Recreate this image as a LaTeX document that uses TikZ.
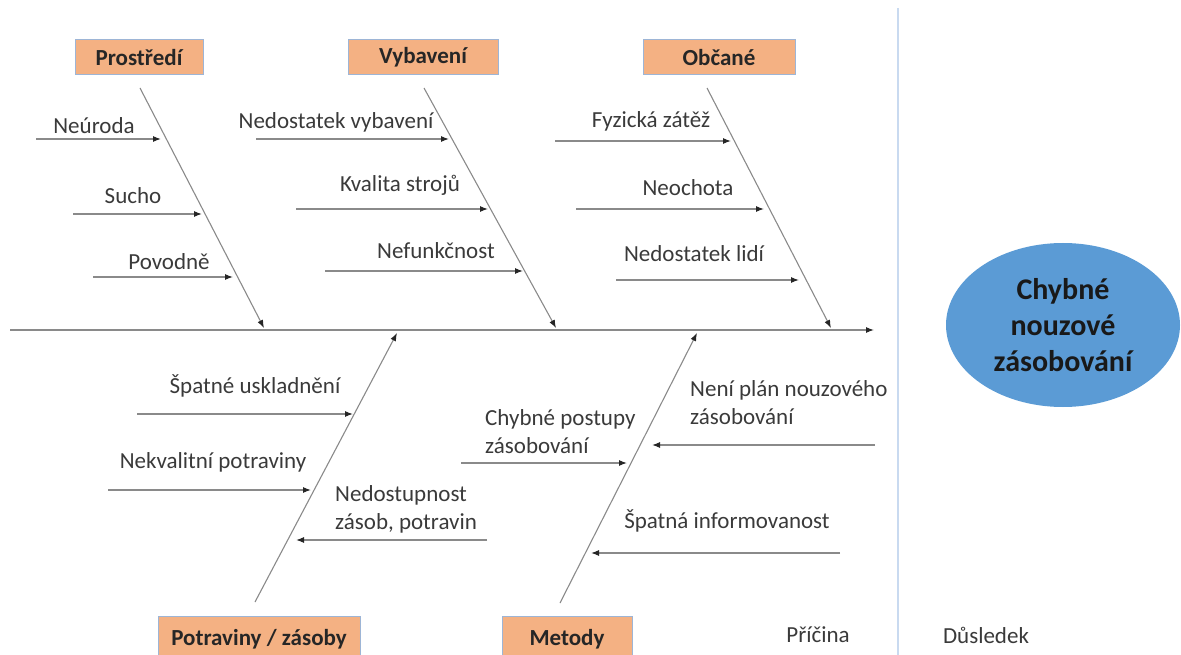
\documentclass[tikz,border=0pt]{standalone}
\usepackage{fontspec}
\setmainfont{Carlito}
\usetikzlibrary{arrows.meta,shapes.geometric}
\definecolor{boxfill}{HTML}{F4B183}
\definecolor{boxline}{HTML}{9DB5D6}
\definecolor{ellfill}{HTML}{5B9BD5}
\definecolor{sepline}{HTML}{C9DAF0}
\definecolor{txt}{HTML}{3A3A3A}
\definecolor{ln}{HTML}{8A8A8A}
\tikzset{
  cat/.style={draw=boxline, fill=boxfill, line width=1pt, font=\bfseries\fontsize{23}{28}\selectfont, text=black!85, inner sep=0pt},
  lbl/.style={font=\fontsize{23}{28}\selectfont, text=txt, inner sep=0pt, align=left},
  bone/.style={draw=ln, line width=1.1pt, -{Latex[length=8pt,width=6pt,color=black!85]}},
  sub/.style={draw=ln, line width=1.1pt, -{Latex[length=8pt,width=6pt,color=black!85]}},
}
\begin{document}
\begin{tikzpicture}[x=1pt,y=-1pt]
\useasboundingbox (0,0) rectangle (1181,655);
\clip (0,0) rectangle (1181,655);

% separator
\coordinate (vT) at (898,8);
\coordinate (vB) at (898,655);
\draw[sepline, line width=1.2pt] (vT) -- (vB);

% spine
\coordinate (sL) at (10,330);
\coordinate (sR) at (874,330);
\draw[bone] (sL) -- (sR);

% category boxes
\node[cat, minimum width=128pt, minimum height=35pt] (prost) at (139,57.5) {Prostředí};
\node[cat, minimum width=150pt, minimum height=35pt] (vyb) at (423,57.5) {Vybavení};
\node[cat, minimum width=152pt, minimum height=35pt] (obc) at (719,57.5) {Občané};
\node[cat, minimum width=202pt, minimum height=46pt] (potr) at (259,639) {Potraviny / zásoby};
\node[cat, minimum width=130pt, minimum height=46pt] (met) at (567,639) {Metody};

% effect
\node[ellipse, fill=ellfill, minimum width=234pt, minimum height=164pt, inner sep=0pt,
      font=\bfseries\fontsize{30}{36}\selectfont, text=black!90, align=center] (eff) at (1063,325)
      {Chybné\\nouzové\\zásobování};

% branches
\coordinate (b1s) at (140,88);  \coordinate (b1e) at (264,328);
\coordinate (b2s) at (424,88);  \coordinate (b2e) at (556,328);
\coordinate (b3s) at (707,88);  \coordinate (b3e) at (831,328);
\coordinate (b4s) at (255,602); \coordinate (b4e) at (397,333);
\coordinate (b5s) at (560,603); \coordinate (b5e) at (697,333);
\draw[bone] (b1s) -- (b1e);
\draw[bone] (b2s) -- (b2e);
\draw[bone] (b3s) -- (b3e);
\draw[bone] (b4s) -- (b4e);
\draw[bone] (b5s) -- (b5e);

% Prostredi causes
\coordinate (a1s) at (36,139);  \coordinate (a1e) at (161,139);
\coordinate (a2s) at (73,214);  \coordinate (a2e) at (202,214);
\coordinate (a3s) at (93,277);  \coordinate (a3e) at (233,277);
\draw[sub] (a1s) -- (a1e);
\draw[sub] (a2s) -- (a2e);
\draw[sub] (a3s) -- (a3e);
\node[lbl] (t1) at (94,126) {Neúroda};
\node[lbl] (t2) at (133,196) {Sucho};
\node[lbl] (t3) at (169,262) {Povodně};

% Vybaveni causes
\coordinate (a4s) at (256,139); \coordinate (a4e) at (449,139);
\coordinate (a5s) at (296,209); \coordinate (a5e) at (488,209);
\coordinate (a6s) at (325,271); \coordinate (a6e) at (523,271);
\draw[sub] (a4s) -- (a4e);
\draw[sub] (a5s) -- (a5e);
\draw[sub] (a6s) -- (a6e);
\node[lbl] (t4) at (336,122) {Nedostatek vybavení};
\node[lbl] (t5) at (400,185) {Kvalita strojů};
\node[lbl] (t6) at (436,251) {Nefunkčnost};

% Obcane causes
\coordinate (a7s) at (555,141); \coordinate (a7e) at (731,141);
\coordinate (a8s) at (576,209); \coordinate (a8e) at (764,209);
\coordinate (a9s) at (616,280); \coordinate (a9e) at (799,280);
\draw[sub] (a7s) -- (a7e);
\draw[sub] (a8s) -- (a8e);
\draw[sub] (a9s) -- (a9e);
\node[lbl] (t7) at (651,121) {Fyzická zátěž};
\node[lbl] (t8) at (688,188) {Neochota};
\node[lbl] (t9) at (694,254) {Nedostatek lidí};

% Potraviny causes
\coordinate (a10s) at (137,414); \coordinate (a10e) at (353,414);
\coordinate (a11s) at (108,490); \coordinate (a11e) at (311,490);
\coordinate (a12s) at (487,540); \coordinate (a12e) at (296,540);
\draw[sub] (a10s) -- (a10e);
\draw[sub] (a11s) -- (a11e);
\draw[sub] (a12s) -- (a12e);
\node[lbl] (t10) at (255,386) {Špatné uskladnění};
\node[lbl] (t11) at (213,462) {Nekvalitní potraviny};
\node[lbl, anchor=west] (t12) at (335,509) {Nedostupnost\\zásob, potravin};

% Metody causes
\coordinate (a13s) at (461,463); \coordinate (a13e) at (627,463);
\coordinate (a14s) at (875,445); \coordinate (a14e) at (652,445);
\coordinate (a15s) at (840,553); \coordinate (a15e) at (591,553);
\draw[sub] (a13s) -- (a13e);
\draw[sub] (a14s) -- (a14e);
\draw[sub] (a15s) -- (a15e);
\node[lbl, anchor=west] (t13) at (485,432) {Chybné postupy\\zásobování};
\node[lbl, anchor=west] (t14) at (690,403) {Není plán nouzového\\zásobování};
\node[lbl] (t15) at (727,521) {Špatná informovanost};

% bottom labels
\node[lbl] (pric) at (818,635) {Příčina};
\node[lbl] (dusl) at (986,635) {Důsledek};
\end{tikzpicture}
\end{document}
